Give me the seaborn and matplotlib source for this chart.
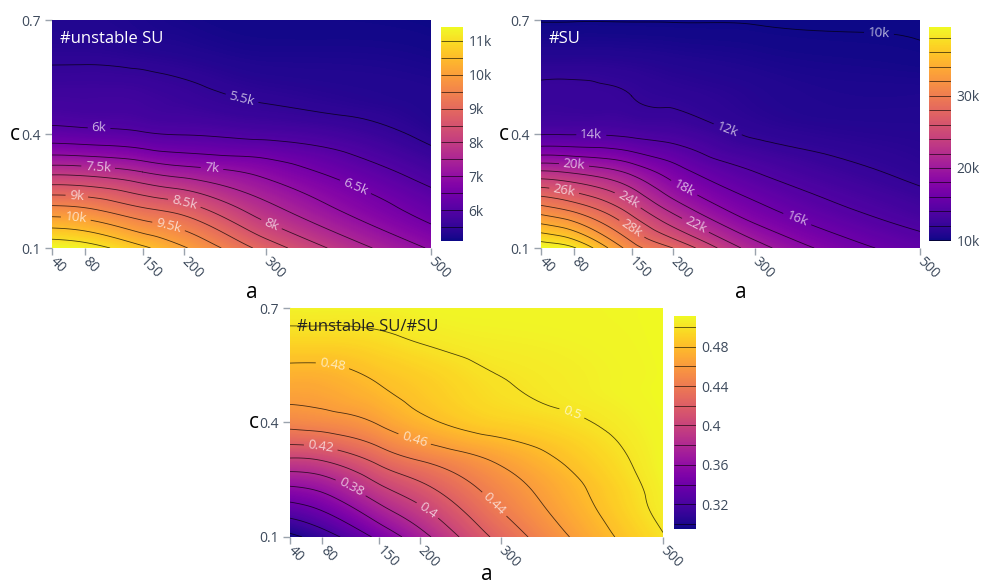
import numpy as np
import matplotlib
matplotlib.use("Agg")
import matplotlib.pyplot as plt
import matplotlib.tri as mtri
import seaborn as sns
from matplotlib.colors import Normalize
from matplotlib.cm import ScalarMappable

# ---------------- data ----------------
a_vals = [40, 80, 150, 200, 300, 500]
c_vals = [0.1, 0.2, 0.3, 0.4, 0.5, 0.6, 0.7]
a_ticklabels = ["40", "80", "150", "200", "300", "500"]
c_ticks = [0.1, 0.4, 0.7]
c_ticklabels = ["0.1", "0.4", "0.7"]

# rows: c = 0.1 ... 0.7 ; columns: a = 40 ... 500
unstable_su = [
    [11400, 11250, 10600, 10050, 8800, 6950],
    [9700, 9600, 9100, 8800, 7700, 6300],
    [7850, 7800, 7500, 7250, 6850, 5800],
    [6200, 6150, 6050, 5980, 5870, 5400],
    [5700, 5700, 5680, 5600, 5450, 5300],
    [5450, 5450, 5400, 5350, 5250, 5200],
    [5300, 5300, 5250, 5200, 5150, 5100],
]
n_su = [
    [39500, 38200, 31000, 28000, 21000, 15000],
    [31000, 29600, 25200, 21500, 16700, 12900],
    [22300, 21700, 19500, 17000, 14000, 11600],
    [13900, 13900, 13600, 13200, 11800, 11100],
    [12300, 12300, 12000, 11700, 11100, 10700],
    [11100, 11100, 11000, 10800, 10500, 10150],
    [9950, 9960, 9960, 9960, 9940, 9900],
]
ratio = [
    [0.295, 0.310, 0.345, 0.372, 0.426, 0.499],
    [0.344, 0.353, 0.385, 0.405, 0.445, 0.506],
    [0.396, 0.400, 0.425, 0.440, 0.463, 0.509],
    [0.447, 0.450, 0.462, 0.475, 0.490, 0.510],
    [0.469, 0.470, 0.480, 0.487, 0.499, 0.511],
    [0.490, 0.490, 0.494, 0.499, 0.505, 0.511],
    [0.507, 0.507, 0.507, 0.508, 0.509, 0.511],
]

titles = ["#unstable SU", "#SU", "#unstable SU/#SU"]
levels_1 = np.arange(5500, 11001, 500)
levels_2 = np.arange(10000, 38001, 2000)
levels_3 = np.round(np.arange(0.30, 0.501, 0.02), 2)
cb_ticks_1 = [6000, 7000, 8000, 9000, 10000, 11000]
cb_labels_1 = ["6k", "7k", "8k", "9k", "10k", "11k"]
cb_ticks_2 = [10000, 20000, 30000]
cb_labels_2 = ["10k", "20k", "30k"]
cb_ticks_3 = [0.32, 0.36, 0.40, 0.44, 0.48]
cb_labels_3 = ["0.32", "0.36", "0.4", "0.44", "0.48"]

# label placement hints (a, c) for contour labels
lab_pos_1 = [(271, 0.497), (97, 0.408), (404, 0.239), (234, 0.305), (96, 0.313),
             (307, 0.166), (200, 0.213), (70, 0.234), (181, 0.153), (69, 0.179)]
lab_pos_2 = [(450, 0.658), (263, 0.392), (101, 0.392), (353, 0.187), (217, 0.271),
             (80, 0.318), (229, 0.166), (144, 0.221), (68, 0.25), (150, 0.15)]
lab_pos_3 = [(390, 0.438), (92, 0.543), (193, 0.352), (287, 0.176), (78, 0.336),
             (208, 0.165), (114, 0.226)]

# ---------------- style ----------------
sns.set_theme(style="white")
plt.rcParams["font.family"] = ["Open Sans", "DejaVu Sans"]
cmap = sns.color_palette("plasma", as_cmap=True)
tick_col = "#3d4a5c"

W, H = 981, 586
fig = plt.figure(figsize=(W / 100, H / 100), dpi=100)

A_MIN, A_SPAN = min(a_vals), max(a_vals) - min(a_vals)
C_MIN, C_SPAN = min(c_vals), max(c_vals) - min(c_vals)


def rect(x0, y0, x1, y1):
    return [x0 / W, 1 - y1 / H, (x1 - x0) / W, (y1 - y0) / H]


def fmt_k(v):
    return f"{v / 1000:g}k"


def fmt_r(v):
    return f"{round(v, 2):g}"


def smooth_field(z):
    """Let matplotlib's cubic triangulation interpolator render a smooth surface."""
    A, C = np.meshgrid(a_vals, c_vals)
    xn = ((A - A_MIN) / A_SPAN).ravel()
    yn = ((C - C_MIN) / C_SPAN).ravel()
    tri = mtri.Triangulation(xn, yn)
    zz = np.asarray(z, dtype=float).ravel()
    interp = mtri.CubicTriInterpolator(tri, zz, kind="min_E")
    refiner = mtri.UniformTriRefiner(tri)
    tri_r, z_r = refiner.refine_field(zz, triinterpolator=interp, subdiv=4)
    tri_plot = mtri.Triangulation(tri_r.x * A_SPAN + A_MIN, tri_r.y * C_SPAN + C_MIN,
                                  tri_r.triangles)
    return tri_plot, z_r


def panel(ax_rect, cb_rect, z, levels, lab_pos, fmt, cb_ticks, cb_labels,
          title, title_col, a_y=-0.19):
    ax = fig.add_axes(ax_rect)
    Z = np.array(z, dtype=float)
    vmin, vmax = Z.min(), Z.max()
    norm = Normalize(vmin, vmax)
    tri_plot, z_r = smooth_field(z)
    ax.tricontourf(tri_plot, z_r, levels=np.linspace(vmin, vmax, 300), cmap=cmap,
                   norm=norm, extend="both", antialiased=False)
    cs = ax.tricontour(tri_plot, z_r, levels=levels, colors="black", linewidths=0.6,
                       alpha=0.7)
    ax.clabel(cs, manual=lab_pos, fmt=fmt, colors="white",
              fontsize=9.5, inline=True, inline_spacing=4)
    ax.set_xlim(40, 500)
    ax.set_ylim(0.1, 0.7)
    ax.set_xticks(a_vals, a_ticklabels)
    ax.set_yticks(c_ticks, c_ticklabels)
    for s in ax.spines.values():
        s.set_visible(False)
    ax.tick_params(axis="both", length=5, width=1, color="#9aa3ad", labelsize=10,
                   labelcolor=tick_col, pad=3, left=True, bottom=True)
    for lab in ax.get_xticklabels():
        lab.set_rotation(-45)
        lab.set_ha("left")
        lab.set_va("center")
        lab.set_rotation_mode("anchor")
    ax.set_ylabel("c", rotation=0, fontsize=15, color="black", va="center", ha="center")
    ax.yaxis.set_label_coords(-0.098, 0.5)
    ax.set_xlabel("a", fontsize=15, color="black", va="center")
    ax.xaxis.set_label_coords(0.528, a_y)
    ax.text(0.02, 0.95, title, transform=ax.transAxes, fontsize=12, color=title_col,
            ha="left", va="top")

    cax = fig.add_axes(cb_rect)
    sm = ScalarMappable(norm=norm, cmap=cmap)
    cb = fig.colorbar(sm, cax=cax)
    cb.outline.set_visible(False)
    inl = [l for l in levels if vmin < l < vmax]
    cb.add_lines(inl, colors=["black"] * len(inl), linewidths=[0.6] * len(inl))
    for ln in cb.ax.collections[-1:]:
        ln.set_alpha(0.7)
    cb.set_ticks(cb_ticks, labels=cb_labels)
    cb.ax.tick_params(length=0, labelsize=10, labelcolor=tick_col, pad=4)
    return ax


panel(rect(52, 20, 431, 248), rect(441, 27, 463, 241), unstable_su, levels_1,
      lab_pos_1, fmt_k, cb_ticks_1, cb_labels_1, titles[0], "white", a_y=-0.193)
panel(rect(541, 20, 920, 248), rect(929, 27, 951, 241), n_su, levels_2,
      lab_pos_2, fmt_k, cb_ticks_2, cb_labels_2, titles[1], "white", a_y=-0.193)
panel(rect(290, 308, 663, 537), rect(674, 316, 696, 529), ratio, levels_3,
      lab_pos_3, fmt_r, cb_ticks_3, cb_labels_3, titles[2], "#222222", a_y=-0.165)

fig.savefig("out.png", dpi=100, facecolor="white")
